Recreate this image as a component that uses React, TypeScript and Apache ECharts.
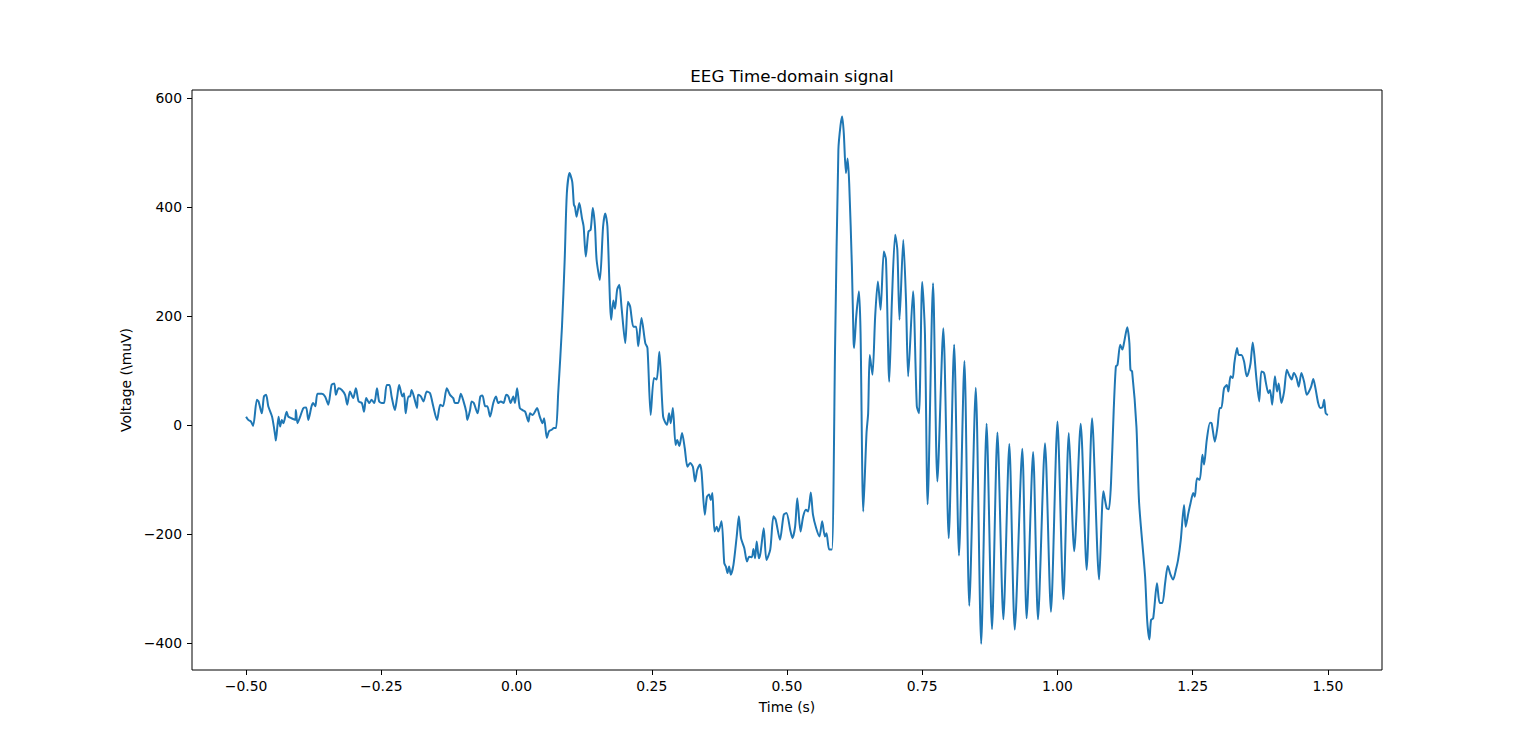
import React, { useEffect, useRef } from "react";
import * as echarts from "echarts";

const titleText = "EEG Time-domain signal";
const xAxisName = "Time (s)";
const yAxisName = "Voltage (\\muV)";
const xTicks = [-0.5, -0.25, 0, 0.25, 0.5, 0.75, 1.0, 1.25, 1.5];
const yTicks = [-400, -200, 0, 200, 400, 600];

const timeS = [
  -0.5, -0.496, -0.491, -0.487, -0.48, -0.477, -0.471, -0.467, -0.463, -0.459, -0.452, -0.446, -0.445, -0.44, -0.437, -0.434, -0.431, -0.425, -0.422, -0.416,
  -0.409, -0.408, -0.405, -0.4, -0.394, -0.389, -0.385, -0.379, -0.376, -0.372, -0.368, -0.36, -0.354, -0.348, -0.342, -0.337, -0.334, -0.329, -0.323, -0.317,
  -0.313, -0.308, -0.302, -0.297, -0.292, -0.286, -0.282, -0.278, -0.272, -0.268, -0.263, -0.258, -0.254, -0.249, -0.245, -0.24, -0.235, -0.231, -0.225, -0.221,
  -0.217, -0.211, -0.208, -0.205, -0.2, -0.197, -0.194, -0.189, -0.184, -0.182, -0.177, -0.172, -0.166, -0.16, -0.154, -0.147, -0.141, -0.136, -0.129, -0.123,
  -0.117, -0.114, -0.108, -0.103, -0.098, -0.093, -0.091, -0.086, -0.083, -0.079, -0.072, -0.067, -0.063, -0.058, -0.054, -0.049, -0.043, -0.038, -0.034, -0.029,
  -0.024, -0.019, -0.015, -0.011, -0.006, -0.003, 0.001, 0.006, 0.011, 0.016, 0.022, 0.025, 0.03, 0.034, 0.038, 0.043, 0.048, 0.051, 0.056, 0.06,
  0.065, 0.069, 0.073, 0.077, 0.084, 0.089, 0.093, 0.098, 0.103, 0.106, 0.108, 0.111, 0.116, 0.121, 0.124, 0.128, 0.133, 0.137, 0.141, 0.145,
  0.148, 0.154, 0.16, 0.164, 0.168, 0.175, 0.179, 0.182, 0.186, 0.19, 0.194, 0.201, 0.206, 0.21, 0.216, 0.221, 0.225, 0.231, 0.238, 0.242,
  0.248, 0.254, 0.259, 0.264, 0.271, 0.278, 0.282, 0.285, 0.289, 0.294, 0.297, 0.301, 0.306, 0.311, 0.316, 0.321, 0.326, 0.33, 0.334, 0.339,
  0.342, 0.348, 0.352, 0.356, 0.359, 0.362, 0.366, 0.37, 0.373, 0.379, 0.384, 0.387, 0.39, 0.393, 0.396, 0.401, 0.407, 0.411, 0.415, 0.421,
  0.426, 0.43, 0.435, 0.438, 0.441, 0.444, 0.448, 0.451, 0.457, 0.462, 0.469, 0.475, 0.479, 0.487, 0.494, 0.499, 0.506, 0.51, 0.515, 0.519,
  0.525, 0.53, 0.535, 0.539, 0.544, 0.548, 0.554, 0.56, 0.565, 0.57, 0.573, 0.578, 0.583, 0.589, 0.595, 0.599, 0.602, 0.605, 0.609, 0.612,
  0.615, 0.62, 0.623, 0.624, 0.628, 0.633, 0.636, 0.641, 0.647, 0.65, 0.653, 0.658, 0.663, 0.668, 0.673, 0.679, 0.683, 0.689, 0.694, 0.7,
  0.704, 0.708, 0.715, 0.72, 0.724, 0.733, 0.74, 0.744, 0.75, 0.755, 0.76, 0.77, 0.778, 0.789, 0.799, 0.809, 0.818, 0.828, 0.837, 0.849,
  0.859, 0.869, 0.879, 0.889, 0.9, 0.911, 0.921, 0.935, 0.943, 0.955, 0.964, 0.977, 0.988, 1.0, 1.011, 1.021, 1.031, 1.043, 1.054, 1.064,
  1.077, 1.085, 1.091, 1.095, 1.099, 1.104, 1.108, 1.111, 1.116, 1.12, 1.123, 1.129, 1.133, 1.135, 1.138, 1.146, 1.151, 1.162, 1.166, 1.17,
  1.173, 1.177, 1.184, 1.189, 1.194, 1.199, 1.204, 1.209, 1.214, 1.219, 1.223, 1.228, 1.234, 1.237, 1.242, 1.246, 1.251, 1.254, 1.258, 1.263,
  1.268, 1.271, 1.276, 1.282, 1.285, 1.291, 1.296, 1.3, 1.303, 1.308, 1.313, 1.316, 1.32, 1.324, 1.327, 1.332, 1.335, 1.34, 1.345, 1.35,
  1.353, 1.357, 1.361, 1.364, 1.368, 1.373, 1.377, 1.382, 1.385, 1.39, 1.393, 1.397, 1.402, 1.406, 1.409, 1.414, 1.419, 1.424, 1.428, 1.433,
  1.437, 1.442, 1.446, 1.451, 1.456, 1.461, 1.465, 1.469, 1.473, 1.477, 1.482, 1.486, 1.49, 1.493, 1.496, 1.5,
];

const voltageUV = [
  15, 9, 6, -2, 46, 43, 21, 52, 55, 34, 15, -21, -29, 15, -3, 9, 3, 24, 15, 12,
  9, 27, 3, 15, 31, 32, 9, 34, 40, 34, 57, 57, 52, 37, 73, 76, 55, 67, 64, 55,
  37, 61, 49, 67, 43, 40, 24, 49, 40, 46, 40, 67, 43, 40, 40, 73, 73, 52, 27, 49,
  73, 52, 58, 21, 52, 52, 64, 49, 31, 55, 52, 43, 61, 58, 34, 9, 37, 34, 67, 55,
  49, 40, 40, 57, 43, 24, 9, 27, 43, 40, 21, 52, 54, 34, 34, 15, 40, 52, 40, 43,
  40, 55, 52, 40, 52, 40, 67, 31, 27, 24, 6, 21, 18, 24, 31, 15, 3, 12, -24, -12,
  -9, -6, -6, 58, 180, 303, 425, 462, 446, 404, 400, 382, 407, 379, 364, 309, 355, 358, 398, 364,
  303, 266, 364, 388, 364, 193, 228, 213, 248, 257, 217, 150, 226, 217, 180, 180, 144, 196, 150, 141,
  18, 86, 83, 134, 15, 0, 21, 3, 31, -37, -28, -39, -15, -43, -77, -70, -77, -104, -83, -73,
  -86, -165, -132, -128, -138, -125, -196, -187, -196, -177, -254, -260, -272, -260, -275, -257, -205, -168, -208, -226,
  -251, -242, -243, -228, -245, -214, -245, -235, -190, -248, -229, -168, -174, -211, -165, -162, -193, -208, -187, -135,
  -196, -168, -156, -159, -124, -165, -190, -205, -177, -205, -199, -229, -229, 150, 505, 550, 566, 535, 462, 489,
  443, 290, 156, 141, 199, 245, 168, -159, -15, 21, 128, 92, 199, 263, 211, 318, 303, 79, 229, 349,
  321, 193, 339, 229, 89, 245, 34, 21, 262, 168, -146, 260, -104, 177, -208, 147, -240, 117, -332, 68,
  -402, 2, -375, -14, -357, -35, -376, -44, -355, -50, -357, -34, -343, 6, -320, -15, -232, 2, -266, 12,
  -284, -122, -153, -155, -107, 27, 107, 110, 147, 138, 150, 179, 150, 101, 98, -3, -144, -278, -361, -394,
  -358, -355, -291, -327, -327, -291, -259, -275, -284, -266, -248, -211, -147, -187, -162, -144, -125, -132, -98, -101,
  -55, -73, -28, 4, 3, -31, -3, 31, 31, 67, 73, 61, 89, 86, 113, 141, 128, 128, 116, 89,
  95, 113, 151, 128, 83, 43, 98, 95, 79, 58, 64, 37, 89, 61, 76, 40, 61, 101, 92, 83,
  95, 86, 70, 95, 79, 55, 61, 70, 84, 67, 40, 31, 32, 46, 21, 18,
];

const fontFamily = "'DejaVu Sans', sans-serif";
const fmtMinus = (s: string) => s.replace("-", "\u2212");

export default function App() {
  const ref = useRef<HTMLDivElement>(null);
  useEffect(() => {
    if (!ref.current) return;
    const chart = echarts.init(ref.current, null, { renderer: "svg" });
    const data = timeS.map((t, i) => [t, voltageUV[i]]);
    chart.setOption({
      animation: false,
      backgroundColor: "#ffffff",
      title: {
        text: titleText,
        left: 787,
        top: 62,
        textAlign: "center",
        textStyle: { fontFamily, fontSize: 16.7, fontWeight: "normal", color: "#000" },
      },
      grid: {
        left: 192,
        right: 154,
        top: 90,
        bottom: 84,
        show: true,
        borderColor: "#000",
        borderWidth: 1,
        backgroundColor: "transparent",
      },
      xAxis: {
        type: "value",
        min: -0.6,
        max: 1.6,
        name: xAxisName,
        nameLocation: "middle",
        nameGap: 30,
        nameTextStyle: { fontFamily, fontSize: 13.9, color: "#000" },
        axisLine: { show: false, onZero: false },
        splitLine: { show: false },
        axisTick: {
          show: true,
          inside: false,
          length: 5,
          lineStyle: { color: "#000", width: 1 },
          customValues: xTicks,
        },
        axisLabel: {
          fontFamily,
          fontSize: 13.9,
          color: "#000",
          margin: 9,
          customValues: xTicks,
          formatter: (v: number) => fmtMinus(v.toFixed(2)),
        },
      },
      yAxis: {
        type: "value",
        min: -450,
        max: 614.5,
        name: yAxisName,
        nameLocation: "middle",
        nameGap: 48,
        nameRotate: 90,
        nameTextStyle: { fontFamily, fontSize: 13.9, color: "#000" },
        axisLine: { show: false, onZero: false },
        splitLine: { show: false },
        axisTick: {
          show: true,
          inside: false,
          length: 5,
          lineStyle: { color: "#000", width: 1 },
          customValues: yTicks,
        },
        axisLabel: {
          fontFamily,
          fontSize: 13.9,
          color: "#000",
          margin: 10,
          customValues: yTicks,
          formatter: (v: number) => fmtMinus(String(v)),
        },
      },
      series: [
        {
          type: "line",
          data,
          showSymbol: false,
          smooth: 0.25,
          lineStyle: { color: "#1f77b4", width: 2 },
          z: 3,
        },
      ],
    });
    return () => chart.dispose();
  }, []);
  return (
    <div
      ref={ref}
      style={{ position: "fixed", left: 0, top: 0, width: 1536, height: 754, background: "#fff" }}
    />
  );
}
